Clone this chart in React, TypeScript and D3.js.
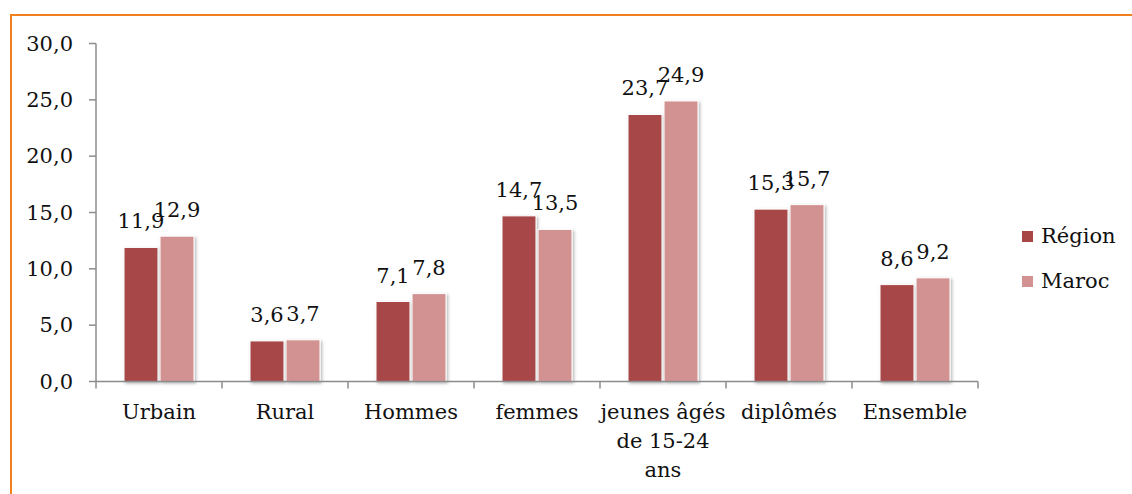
import React from 'react';
import * as d3 from 'd3';

const categories = ['Urbain', 'Rural', 'Hommes', 'femmes', 'jeunes âgés de 15-24 ans', 'diplômés', 'Ensemble'];
const categoryLines = [['Urbain'], ['Rural'], ['Hommes'], ['femmes'], ['jeunes âgés', 'de 15-24', 'ans'], ['diplômés'], ['Ensemble']];
const seriesNames = ['Région', 'Maroc'];
const regionValues = [11.9, 3.6, 7.1, 14.7, 23.7, 15.3, 8.6];
const marocValues = [12.9, 3.7, 7.8, 13.5, 24.9, 15.7, 9.2];
const yTicks = [0, 5, 10, 15, 20, 25, 30];
const colors = ['#a84646', '#d39292'];

const W = 1132, H = 494;
const left = 96, right = 978, top = 43.5, bottom = 381.5;
const font = "'DejaVu Serif', 'Liberation Serif', serif";

const fmt = (v: number) => v.toFixed(1).replace('.', ',');

export default function App() {
    const x = d3.scaleBand<string>().domain(categories).range([left, right]).padding(0);
    const groupW = 70;
    const x1 = d3.scaleBand<string>().domain(seriesNames).range([0, groupW]).paddingInner(0.057);
    const y = d3.scaleLinear().domain([0, 30]).range([bottom, top]);

    const rows = categories.map((c, i) => ({ c, vals: [regionValues[i], marocValues[i]] }));
    const txt = { fontFamily: font, fontSize: '21px', fill: '#111' };

    return (
        <svg width={W} height={H} style={{ position: 'absolute', left: 0, top: 0 }}>
            <defs>
                <filter id="shadow" x="-20%" y="-20%" width="150%" height="150%">
                    <feDropShadow dx="1.5" dy="1.5" stdDeviation="1.5" floodColor="#000" floodOpacity="0.3" />
                </filter>
            </defs>
            <rect x={0} y={0} width={W} height={H} fill="#fff" />
            {/* orange frame, runs off the right and bottom edges */}
            <rect x={11} y={15} width={W + 20} height={H + 20} fill="none" stroke="#f0801e" strokeWidth={2} />

            {/* y axis */}
            <line x1={left} x2={left} y1={top} y2={bottom} stroke="#8c8c8c" strokeWidth={1.5} />
            {yTicks.map(t => (
                <g key={t}>
                    <line x1={left - 7} x2={left} y1={y(t)} y2={y(t)} stroke="#8c8c8c" strokeWidth={1.5} />
                    <text x={73} y={y(t) + 7} textAnchor="end" style={txt}>{fmt(t)}</text>
                </g>
            ))}

            {/* bars */}
            {rows.map(r => {
                const gx = (x(r.c) as number) + (x.bandwidth() - groupW) / 2;
                return (
                    <g key={r.c}>
                        {r.vals.map((v, j) => (
                            <rect key={j} x={gx + (x1(seriesNames[j]) as number)} y={y(v)} width={x1.bandwidth()}
                                height={y(0) - y(v)} fill={colors[j]} stroke="#fff" strokeWidth={1} filter="url(#shadow)" />
                        ))}
                        {r.vals.map((v, j) => (
                            <text key={'t' + j} x={gx + (x1(seriesNames[j]) as number) + x1.bandwidth() / 2} y={y(v) - 19}
                                textAnchor="middle" style={txt}>{fmt(v)}</text>
                        ))}
                    </g>
                );
            })}

            {/* x axis */}
            <line x1={left} x2={right} y1={bottom} y2={bottom} stroke="#8c8c8c" strokeWidth={1.5} />
            {categories.concat(['']).map((c, i) => {
                const tx = i < categories.length ? (x(c) as number) : right;
                return <line key={i} x1={tx} x2={tx} y1={bottom} y2={bottom + 7} stroke="#8c8c8c" strokeWidth={1.5} />;
            })}
            {categories.map((c, i) => (
                <text key={c} x={(x(c) as number) + x.bandwidth() / 2} y={419} textAnchor="middle" style={txt}>
                    {categoryLines[i].map((ln, k) => (
                        <tspan key={k} x={(x(c) as number) + x.bandwidth() / 2} dy={k === 0 ? 0 : 29}>{ln}</tspan>
                    ))}
                </text>
            ))}

            {/* legend */}
            {seriesNames.map((s, i) => (
                <g key={s} transform={`translate(1022, ${231 + i * 45})`}>
                    <rect x={0} y={0} width={11} height={11} fill={colors[i]} />
                    <text x={19} y={12} style={txt}>{s}</text>
                </g>
            ))}
        </svg>
    );
}
